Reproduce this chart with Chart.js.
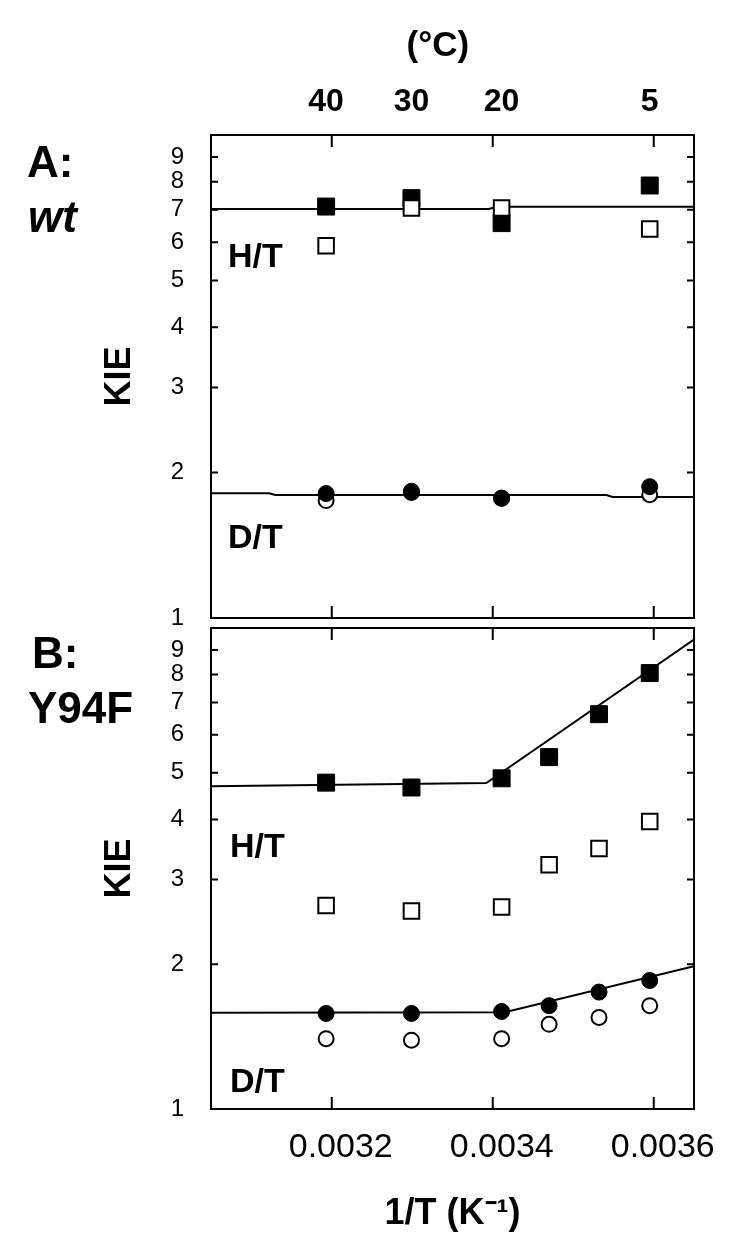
<!DOCTYPE html>
<html>
<head>
<meta charset="utf-8">
<script src="https://cdn.jsdelivr.net/npm/chart.js@4.4.1/dist/chart.umd.min.js"></script>
<style>
  html, body { margin: 0; padding: 0; background: #fff; }
  #wrap { position: relative; width: 750px; height: 1259px; }
  canvas { position: absolute; left: 0; top: 0; }
</style>
</head>
<body>
<div id="wrap">
  <canvas id="panelA" width="750" height="1259"></canvas>
  <canvas id="panelB" width="750" height="1259"></canvas>
</div>
<script>
// 1/T (K^-1) for 40, 30, 20, 15, 10, 5 degC
const invT = [0.003193, 0.003299, 0.003411, 0.003470, 0.003532, 0.003595];
const wtX = [0.003193, 0.003299, 0.003411, 0.003595];

const tempLabels = ['40', '30', '20', '5'];
const tempTickX = [0.003193, 0.003299, 0.003411, 0.003595];
const xTicks = [0.0032, 0.0034, 0.0036];
const yTicks = [1, 2, 3, 4, 5, 6, 7, 8, 9];
const xMin = 0.00305, xMax = 0.00365;

// panel A: wt
const wtHT = [7.11, 7.40, 6.57, 7.86];
const wtHTopen = [5.90, 7.06, 7.06, 6.39];
const wtDT = [1.81, 1.83, 1.77, 1.87];
const wtDTopen = [1.75, 1.82, 1.77, 1.80];
const wtHTfitX = [0.00305, 0.003395, 0.003405, 0.00365];
const wtHTfitY = [7.03, 7.03, 7.10, 7.10];
const wtDTfitX = [0.00305, 0.003122, 0.003130, 0.003541, 0.003549, 0.00365];
const wtDTfitY = [1.813, 1.813, 1.798, 1.798, 1.781, 1.781];

// panel B: Y94F
const mutHT = [4.77, 4.66, 4.87, 5.39, 6.62, 8.06];
const mutHTopen = [2.65, 2.58, 2.63, 3.22, 3.48, 3.96];
const mutDT = [1.58, 1.58, 1.595, 1.64, 1.75, 1.85];
const mutDTopen = [1.40, 1.39, 1.40, 1.50, 1.55, 1.64];
const mutHTfitX = [0.00305, 0.003392, 0.00365];
const mutHTfitY = [4.69, 4.76, 9.46];
const mutDTfitX = [0.00305, 0.003415, 0.00365];
const mutDTfitY = [1.585, 1.59, 1.98];

Chart.defaults.font.family = '"Liberation Sans", Arial, sans-serif';
Chart.defaults.color = '#000';

const pts = (xs, ys) => xs.map((x, i) => ({ x: x, y: ys[i] }));

// frame, inward tick marks and free text
const frame = {
  id: 'frame',
  beforeDatasetsDraw(chart) {
    const { ctx, chartArea: a, scales } = chart;
    ctx.save();
    ctx.strokeStyle = '#000';
    ctx.lineWidth = 2;
    ctx.strokeRect(a.left, a.top, a.right - a.left, a.bottom - a.top);
    ctx.beginPath();
    xTicks.forEach(v => {
      const px = scales.x.getPixelForValue(v);
      ctx.moveTo(px, a.top); ctx.lineTo(px, a.top + 12);
      ctx.moveTo(px, a.bottom); ctx.lineTo(px, a.bottom - 12);
    });
    yTicks.slice(1).forEach(v => {
      const py = scales.y.getPixelForValue(v);
      ctx.moveTo(a.left, py); ctx.lineTo(a.left + 7, py);
      ctx.moveTo(a.right, py); ctx.lineTo(a.right - 7, py);
    });
    ctx.stroke();
    ctx.restore();
  },
  afterDraw(chart, args, opts) {
    const ctx = chart.ctx;
    ctx.save();
    ctx.fillStyle = '#000';
    ctx.textBaseline = 'alphabetic';
    (opts.labels || []).forEach(l => {
      ctx.font = l.font;
      ctx.fillText(l.text, l.x, l.y);
    });
    ctx.restore();
  }
};

const F = '"Liberation Sans", Arial, sans-serif';

function yScale() {
  return {
    type: 'logarithmic',
    min: 1,
    max: 10,
    afterBuildTicks: s => { s.ticks = yTicks.map(v => ({ value: v })); },
    afterFit: s => { s.width = 113; },
    grid: { display: false, drawTicks: false },
    border: { display: false },
    ticks: { font: { size: 24 }, padding: 27, autoSkip: false, callback: v => String(v) },
    title: { display: true, text: 'KIE', font: { size: 36, weight: 'bold' }, padding: 0 }
  };
}

function markers(xs, hOpen, hFill, dOpen, dFill, fx1, fy1, fx2, fy2) {
  return [
    { data: pts(fx1, fy1), showLine: true, pointRadius: 0, borderColor: '#000', borderWidth: 2, order: 5 },
    { data: pts(fx2, fy2), showLine: true, pointRadius: 0, borderColor: '#000', borderWidth: 2, order: 5 },
    { data: pts(xs, hFill), pointStyle: 'rect', pointRadius: 12, backgroundColor: '#000', borderColor: '#000', borderWidth: 1, order: 2 },
    { data: pts(xs, hOpen), pointStyle: 'rect', pointRadius: 11, backgroundColor: '#fff', borderColor: '#000', borderWidth: 2, order: 1 },
    { data: pts(xs, dOpen), pointStyle: 'circle', pointRadius: 7.5, backgroundColor: '#fff', borderColor: '#000', borderWidth: 2, order: 2 },
    { data: pts(xs, dFill), pointStyle: 'circle', pointRadius: 8, backgroundColor: '#000', borderColor: '#000', borderWidth: 1, order: 1 }
  ];
}

new Chart(document.getElementById('panelA'), {
  type: 'scatter',
  data: { datasets: markers(wtX, wtHTopen, wtHT, wtDTopen, wtDT, wtHTfitX, wtHTfitY, wtDTfitX, wtDTfitY) },
  options: {
    responsive: false,
    animation: false,
    layout: { padding: { left: 98, right: 56, top: 25, bottom: 641 } },
    plugins: {
      legend: { display: false },
      tooltip: { enabled: false },
      frame: {
        labels: [
          { text: 'A:', x: 27, y: 177, font: 'bold 44px ' + F },
          { text: 'wt', x: 28, y: 232, font: 'italic bold 44px ' + F },
          { text: 'H/T', x: 228, y: 267, font: 'bold 34px ' + F },
          { text: 'D/T', x: 228, y: 548, font: 'bold 34px ' + F }
        ]
      }
    },
    scales: {
      x: { type: 'linear', min: xMin, max: xMax, display: false },
      xTop: {
        type: 'linear',
        position: 'top',
        min: xMin,
        max: xMax,
        afterBuildTicks: s => { s.ticks = tempTickX.map(v => ({ value: v })); },
        afterFit: s => { s.height = 110; },
        grid: { display: false, drawTicks: false },
        border: { display: false },
        ticks: { font: { size: 32, weight: 'bold' }, padding: 14, autoSkip: false, maxRotation: 0, callback: (v, i) => tempLabels[i] },
        title: { display: true, text: '(°C)   ', font: { size: 35, weight: 'bold' }, padding: 0 }
      },
      y: yScale()
    }
  },
  plugins: [frame]
});

new Chart(document.getElementById('panelB'), {
  type: 'scatter',
  data: { datasets: markers(invT, mutHTopen, mutHT, mutDTopen, mutDT, mutHTfitX, mutHTfitY, mutDTfitX, mutDTfitY) },
  options: {
    responsive: false,
    animation: false,
    layout: { padding: { left: 98, right: 56, top: 628, bottom: 23 } },
    plugins: {
      legend: { display: false },
      tooltip: { enabled: false },
      frame: {
        labels: [
          { text: 'B:', x: 32, y: 668, font: 'bold 44px ' + F },
          { text: 'Y94F', x: 28, y: 723, font: 'bold 44px ' + F },
          { text: 'H/T', x: 230, y: 857, font: 'bold 34px ' + F },
          { text: 'D/T', x: 230, y: 1092, font: 'bold 34px ' + F }
        ]
      }
    },
    scales: {
      x: {
        type: 'linear',
        min: xMin,
        max: xMax,
        afterBuildTicks: s => { s.ticks = xTicks.map(v => ({ value: v })); },
        afterFit: s => { s.height = 127; },
        grid: { display: false, drawTicks: false },
        border: { display: false },
        ticks: { font: { size: 34 }, padding: 18, labelOffset: 9, autoSkip: false, maxRotation: 0, callback: v => v.toFixed(4) },
        title: { display: true, text: '1/T (K\u207B\u00B9)', font: { size: 36, weight: 'bold' }, padding: 0 }
      },
      y: yScale()
    }
  },
  plugins: [frame]
});
</script>
</body>
</html>
